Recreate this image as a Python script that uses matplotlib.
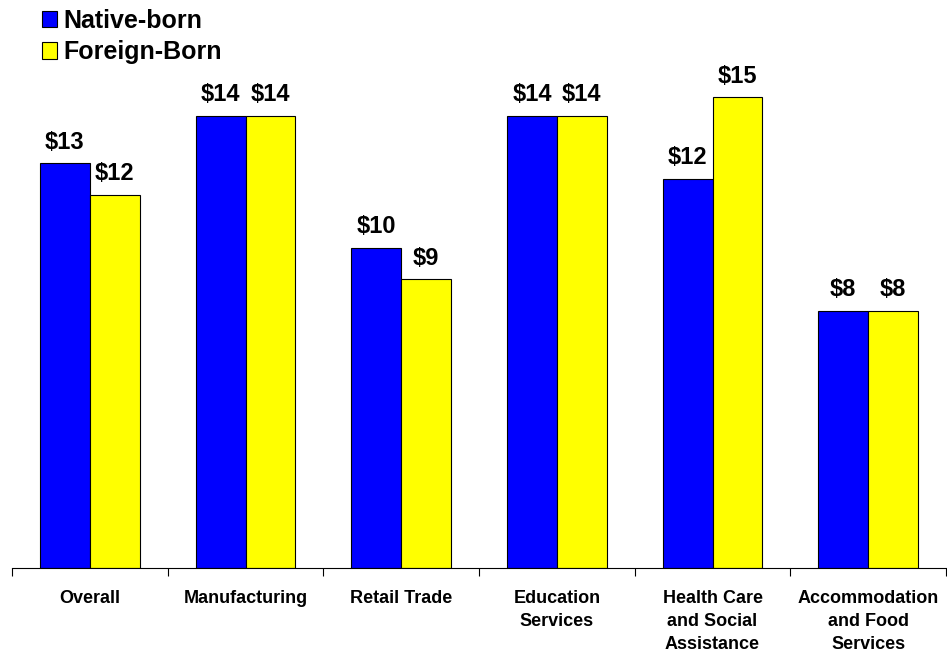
import numpy as np
import matplotlib.pyplot as plt
from matplotlib.patches import Patch

plt.rcParams['font.family'] = ['Liberation Sans', 'DejaVu Sans']
plt.rcParams['font.weight'] = 'bold'

categories = ["Overall", "Manufacturing", "Retail Trade", "Education\nServices",
              "Health Care\nand Social\nAssistance", "Accommodation\nand Food\nServices"]
native = [12.9, 14.4, 10.2, 14.4, 12.4, 8.2]
foreign = [11.9, 14.4, 9.2, 14.4, 15.0, 8.2]
series = ["Native-born", "Foreign-Born"]
colors = ["#0000FF", "#FFFF00"]

fig = plt.figure(figsize=(9.47, 6.56), dpi=100)
ax = fig.add_axes([12/947, 88/656, 934/947, (568-66)/656])

x = np.arange(len(categories))
w = 0.32
b1 = ax.bar(x - w/2, native, w, color=colors[0], edgecolor="black", linewidth=0.8)
b2 = ax.bar(x + w/2, foreign, w, color=colors[1], edgecolor="black", linewidth=0.8)

for bars in (b1, b2):
    for r in bars:
        ax.annotate("$%d" % round(r.get_height()), (r.get_x() + r.get_width()/2, r.get_height()),
                    xytext=(0, 7), textcoords="offset points", ha="center", va="bottom",
                    fontsize=17, fontweight="bold")

ax.set_xlim(-0.5, len(categories) - 0.5)
ax.set_ylim(0, 16)
for s in ("top", "right", "left"):
    ax.spines[s].set_visible(False)
ax.spines["bottom"].set_linewidth(0.8)
ax.set_yticks([])
ax.set_xticks(x)
ax.set_xticklabels(categories, fontsize=13, fontweight="bold", linespacing=1.45, va="top")
ax.tick_params(axis="x", which="major", length=0, pad=16)
ax.set_xticks(np.arange(len(categories) + 1) - 0.5, minor=True)
ax.tick_params(axis="x", which="minor", length=6, width=0.8, direction="out")

handles = [Patch(facecolor=c, edgecolor="black", linewidth=0.8) for c in colors]
fig.legend(handles, series, loc="upper left", bbox_to_anchor=(0.034, 1.002), frameon=False,
           prop={"size": 18, "weight": "bold"}, handlelength=0.6, handleheight=0.65,
           handletextpad=0.25, labelspacing=0.3, borderaxespad=0)

fig.savefig("out.png", dpi=100)
